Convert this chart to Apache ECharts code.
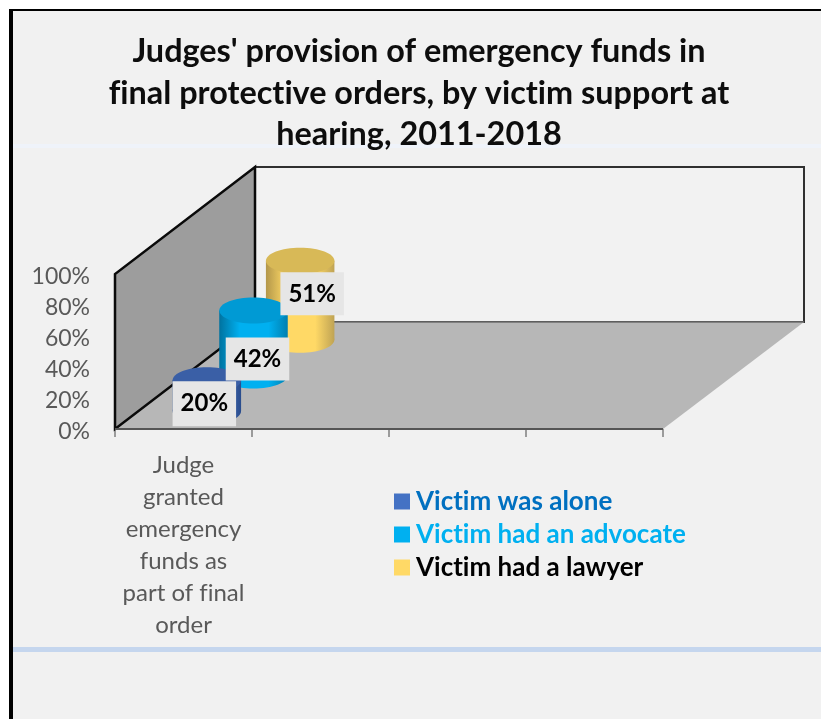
<!DOCTYPE html>
<html>
<head>
<meta charset="utf-8">
<style>
  html, body { margin: 0; padding: 0; background: #ffffff; }
  #chart { width: 821px; height: 719px; }
</style>
<script src="https://cdn.jsdelivr.net/npm/echarts@6/dist/echarts.min.js"></script>
</head>
<body>
<div id="chart"></div>
<script>
const titleText = "Judges' provision of emergency funds in\nfinal protective orders, by victim support at\nhearing, 2011-2018";
const categories = ['Judge\ngranted\nemergency\nfunds as\npart of final\norder', '', '', ''];
const seriesNames = ['Victim was alone', 'Victim had an advocate', 'Victim had a lawyer'];
const aloneValues = [20];
const advocateValues = [42];
const lawyerValues = [51];
const valueTicks = [0, 20, 40, 60, 80, 100];

// Oblique projection: how far the back of the box sits from its front plane.
const DEPTH_X = 140;
const DEPTH_Y = -107;
const ROWS = 3;
const CAP_RY = 13;

const sidePalette = [
  ['#24457f', '#4472c4', '#2a4c8c'],
  ['#00729f', '#00b0f0', '#007fb0'],
  ['#b3974a', '#ffd966', '#bfa354']
];
const capPalette = ['#3a5fa6', '#009ad4', '#d8b957'];
const legendSwatches = ['#4472c4', '#00b0f0', '#ffd966'];
const legendTextColors = ['#0070c0', '#00b0f0', '#000000'];
const labelNudges = [[-2.5, 8], [4, 16], [12, -6.5]];

function renderBox(params, api) {
  const g = params.coordSys;
  const x0 = g.x, x1 = g.x + g.width, yb = g.y + g.height, yt = g.y;
  const bx0 = x0 + DEPTH_X, bx1 = x1 + DEPTH_X + 1, byb = yb + DEPTH_Y, byt = yt + DEPTH_Y;
  return {
    type: 'group',
    children: [
      { type: 'polygon', z2: 1, shape: { points: [[bx0, byt], [bx1, byt], [bx1, byb], [bx0, byb]] },
        style: { fill: '#f2f2f2', stroke: '#303030', lineWidth: 2 } },
      { type: 'polygon', z2: 2, shape: { points: [[x0, yb], [x1, yb], [bx1, byb], [bx0, byb]] },
        style: { fill: '#b7b7b7', stroke: null } },
      { type: 'line', z2: 3, shape: { x1: bx0, y1: byb, x2: bx1, y2: byb },
        style: { stroke: '#6e6e6e', lineWidth: 1.5 } },
      { type: 'polygon', z2: 4, shape: { points: [[x0, yb], [x0, yt], [bx0, byt], [bx0, byb]] },
        style: { fill: '#9d9d9d', stroke: '#0a0a0a', lineWidth: 2.5 } },
      { type: 'line', z2: 5, shape: { x1: x0, y1: yb, x2: x1, y2: yb },
        style: { stroke: '#555555', lineWidth: 2 } }
    ]
  };
}

function cylinderRenderer(row) {
  return function (params, api) {
    const cat = api.value(0);
    const val = api.value(1);
    const top = api.coord([cat, val]);
    const base = api.coord([cat, 0]);
    const band = api.size([1, 0])[0];
    const rx = band / 4;
    const f = (row + 0.5) / ROWS;
    const ox = DEPTH_X * f;
    const oy = DEPTH_Y * f;
    const cx = top[0] + ox;
    const ty = top[1] + oy;
    const by = base[1] + oy;
    const z = 30 - row * 5;
    const side = sidePalette[row];
    const fill = {
      type: 'linear', x: 0, y: 0, x2: 1, y2: 0,
      colorStops: [
        { offset: 0, color: side[0] },
        { offset: 0.3, color: side[1] },
        { offset: 0.72, color: side[1] },
        { offset: 1, color: side[2] }
      ]
    };
    const nudge = labelNudges[row];
    return {
      type: 'group',
      children: [
        { type: 'ellipse', z2: z, shape: { cx: cx, cy: by, rx: rx, ry: CAP_RY }, style: { fill: fill } },
        { type: 'rect', z2: z, shape: { x: cx - rx, y: ty, width: rx * 2, height: by - ty }, style: { fill: fill } },
        { type: 'ellipse', z2: z + 1, shape: { cx: cx, cy: ty, rx: rx, ry: CAP_RY }, style: { fill: capPalette[row] } },
        { type: 'text', z2: 60,
          x: cx + nudge[0], y: (ty + by) / 2 + nudge[1],
          style: {
            text: val + '%',
            font: 'bold 24px Lato, sans-serif',
            fill: '#000000',
            align: 'center',
            verticalAlign: 'middle',
            backgroundColor: '#e6e6e6',
            padding: row === 0 ? [11, 8, 10, 8] : [10, 8, 9, 8]
          } }
      ]
    };
  };
}

function cylinderSeries(row, values) {
  return {
    type: 'custom',
    name: seriesNames[row],
    coordinateSystem: 'cartesian2d',
    renderItem: cylinderRenderer(row),
    encode: { x: 0, y: 1 },
    data: values.map(function (v, i) { return [i, v]; }),
    itemStyle: { color: legendSwatches[row] },
    clip: false,
    silent: true
  };
}

const option = {
  animation: false,
  backgroundColor: '#ffffff',
  title: {
    text: titleText,
    left: 414,
    top: 26,
    textAlign: 'center',
    textStyle: {
      fontFamily: 'Lato, sans-serif',
      fontWeight: 'bold',
      fontSize: 32.4,
      lineHeight: 41.5,
      color: '#0d0d0d'
    }
  },
  legend: {
    left: 389,
    top: 483,
    orient: 'vertical',
    icon: 'rect',
    itemWidth: 16,
    itemHeight: 16,
    itemGap: 6,
    selectedMode: false,
    textStyle: { fontFamily: 'Lato, sans-serif', fontWeight: 'bold', fontSize: 26, padding: [0, 0, 0, 1], lineHeight: 27 },
    data: seriesNames.map(function (name, i) {
      return {
        name: name,
        itemStyle: { color: legendSwatches[i] },
        textStyle: { color: legendTextColors[i] }
      };
    })
  },
  grid: { left: 115, top: 274, width: 548, height: 155, containLabel: false },
  xAxis: {
    type: 'category',
    data: categories,
    axisLine: { show: false },
    axisTick: { show: true, length: 8, lineStyle: { color: '#7f7f7f', width: 1.5 } },
    axisLabel: {
      interval: 0,
      margin: 20,
      fontFamily: 'Lato, sans-serif',
      fontSize: 24,
      lineHeight: 32,
      color: '#595959',
      verticalAlign: 'top'
    }
  },
  yAxis: {
    type: 'value',
    min: valueTicks[0],
    max: valueTicks[valueTicks.length - 1],
    interval: valueTicks[1] - valueTicks[0],
    axisLine: { show: false },
    axisTick: { show: false },
    splitLine: { show: false },
    axisLabel: {
      margin: 25,
      fontFamily: 'Lato, sans-serif',
      fontSize: 23,
      color: '#595959',
      verticalAlign: 'top',
      lineHeight: 6,
      formatter: '{value}%'
    }
  },
  graphic: [
    { type: 'rect', z: -10, shape: { x: 9, y: 9, width: 812, height: 710 }, style: { fill: '#000000' } },
    { type: 'rect', z: -9, shape: { x: 13, y: 11, width: 808, height: 708 }, style: { fill: '#f1f1f1' } },
    { type: 'rect', z: -8, shape: { x: 13, y: 144, width: 808, height: 4 }, style: { fill: '#eff3fa' } },
    { type: 'rect', z: -8, shape: { x: 13, y: 647, width: 808, height: 5 }, style: { fill: '#c5d6ee' } }
  ],
  series: [
    {
      type: 'custom',
      name: 'box',
      coordinateSystem: 'cartesian2d',
      renderItem: renderBox,
      data: [[0, 0]],
      silent: true,
      clip: false
    },
    cylinderSeries(0, aloneValues),
    cylinderSeries(1, advocateValues),
    cylinderSeries(2, lawyerValues)
  ]
};

const chart = echarts.init(document.getElementById('chart'), null, { renderer: 'canvas' });
chart.setOption(option);
// Keep letter pairs such as "ti" and "fi" as separate glyphs, then repaint.
const surface = chart.getDom().querySelector('canvas');
if (surface) {
  surface.getContext('2d').textRendering = 'optimizeSpeed';
  chart.setOption(option, true);
}
</script>
</body>
</html>
